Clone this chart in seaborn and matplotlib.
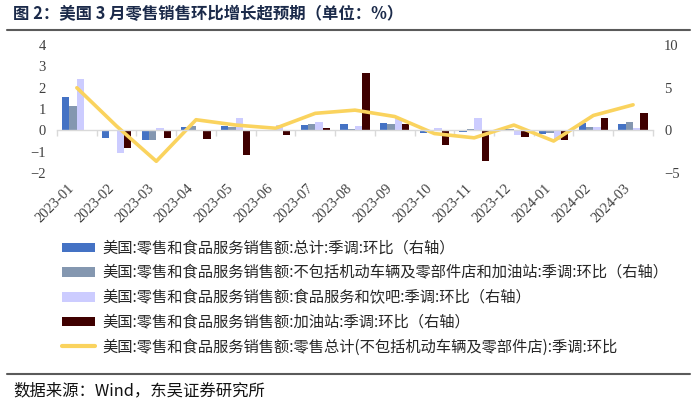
import numpy as np
import pandas as pd
import matplotlib
matplotlib.use("Agg")
import matplotlib.pyplot as plt
import seaborn as sns
from matplotlib.patches import Patch
from matplotlib.lines import Line2D

months = ["2023-01", "2023-02", "2023-03", "2023-04", "2023-05", "2023-06", "2023-07",
          "2023-08", "2023-09", "2023-10", "2023-11", "2023-12", "2024-01", "2024-02", "2024-03"]
# bars (right axis)
total = [3.9, -0.9, -1.1, 0.35, 0.5, 0.05, 0.65, 0.8, 0.85, -0.25, -0.2, 0.15, -0.45, 0.85, 0.75]
ex_auto_gas = [2.9, -0.05, -1.1, 0.5, 0.35, 0.05, 0.75, 0.15, 0.7, 0.1, 0.15, 0.2, -0.35, 0.4, 0.95]
food_service = [6.0, -2.6, 0.3, 0.0, 1.5, 0.6, 1.0, 0.55, 1.5, 0.3, 1.4, -0.5, -1.1, 0.35, 0.3]
gas_station = [0.0, -2.1, -0.9, -1.0, -2.9, -0.6, 0.3, 6.7, 0.8, -1.7, -3.6, -0.8, -1.15, 1.5, 2.05]
# line (left axis)
ex_auto = [2.0, 0.2, -1.45, 0.5, 0.25, 0.1, 0.8, 0.95, 0.65, -0.15, -0.35, 0.25, -0.5, 0.7, 1.2]

bar_names = [
    "美国:零售和食品服务销售额:总计:季调:环比（右轴）",
    "美国:零售和食品服务销售额:不包括机动车辆及零部件店和加油站:季调:环比（右轴）",
    "美国:零售和食品服务销售额:食品服务和饮吧:季调:环比（右轴）",
    "美国:零售和食品服务销售额:加油站:季调:环比（右轴）",
]
line_name = "美国:零售和食品服务销售额:零售总计(不包括机动车辆及零部件店):季调:环比"
bar_colors = ["#4472C4", "#8497B0", "#CCCCFF", "#3F0000"]
line_color = "#FAD35E"

title = "图 2：美国 3 月零售销售环比增长超预期（单位：%）"
source = "数据来源：Wind，东吴证券研究所"

sns.set_theme(style="white")
plt.rcParams["font.family"] = ["Noto Sans CJK SC", "DejaVu Sans"]

bars_df = pd.DataFrame({
    "month": np.repeat(months, 4),
    "series": bar_names * len(months),
    "value": np.ravel(np.column_stack([total, ex_auto_gas, food_service, gas_station])),
})
line_df = pd.DataFrame({"pos": np.arange(len(months)), "value": ex_auto})

fig = plt.figure(figsize=(7.0, 4.07), dpi=100)
ax = fig.add_axes([0.0814, 0.575, 0.8514, 0.314])
ax2 = ax.twinx()

sns.barplot(data=bars_df, x="month", y="value", hue="series", order=months,
            hue_order=bar_names, palette=bar_colors, width=0.74, ax=ax2,
            legend=False, saturation=1, linewidth=0)
sns.lineplot(data=line_df, x="pos", y="value", color=line_color, linewidth=2.6,
             ax=ax, legend=False)

ax.set_zorder(ax2.get_zorder() + 1)
ax.patch.set_visible(False)

ax.set_ylim(-2, 4)
ax2.set_ylim(-5, 10)
ax.set_xlim(-0.5, len(months) - 0.5)
ax.set_yticks([-2, -1, 0, 1, 2, 3, 4])
ax2.set_yticks([-5, 0, 5, 10])
ax.set_xlabel("")
ax.set_ylabel("")
ax2.set_xlabel("")
ax2.set_ylabel("")

for a in (ax, ax2):
    for s in a.spines.values():
        s.set_visible(False)
ax.spines["bottom"].set_visible(True)
ax.spines["bottom"].set_position(("data", 0))
ax.spines["bottom"].set_color("#D9D9D9")
ax.spines["bottom"].set_linewidth(1.0)

ax.set_xticks(np.arange(len(months)))
ax.set_xticks(np.arange(len(months) + 1) - 0.5, minor=True)
ax.set_xticklabels(months, rotation=45, ha="right", va="top",
                   fontfamily="Liberation Serif", fontsize=10.5, color="#404040")
ax.tick_params(axis="x", which="major", length=0, pad=37)
ax.tick_params(axis="x", which="minor", length=4, width=1, color="#D9D9D9", direction="out")
ax.xaxis.set_ticks_position("bottom")

for a in (ax, ax2):
    a.tick_params(axis="y", length=0, labelsize=10.5, labelcolor="#404040", pad=8)
    for lab in a.get_yticklabels():
        lab.set_fontfamily("Liberation Serif")

handles = [Patch(facecolor=c, edgecolor="none") for c in bar_colors]
handles.append(Line2D([0], [0], color=line_color, linewidth=3))
fig.legend(handles, bar_names + [line_name], loc="upper left",
           bbox_to_anchor=(0.088, 1 - 240 / 407), frameon=False,
           handlelength=2.2, handleheight=0.6, handletextpad=0.5,
           labelspacing=0.5, borderaxespad=0, borderpad=0,
           prop={"family": ["Noto Sans CJK SC", "DejaVu Sans"], "size": 11, "weight": "light"})

fig.text(13 / 700, 1 - 14 / 407, title, fontsize=11.8, fontweight="bold",
         color="#1B2A4A", ha="left", va="center")
fig.add_artist(Line2D([7 / 700, 690 / 700], [1 - 30 / 407, 1 - 30 / 407],
                      color="#5A5A5A", linewidth=1.5, transform=fig.transFigure))
fig.add_artist(Line2D([7 / 700, 690 / 700], [1 - 374 / 407, 1 - 374 / 407],
                      color="#5A5A5A", linewidth=1.5, transform=fig.transFigure))
fig.text(13 / 700, 1 - 391 / 407, source, fontsize=11.8, color="#111111",
         ha="left", va="center")

fig.savefig("out.png", dpi=100)
